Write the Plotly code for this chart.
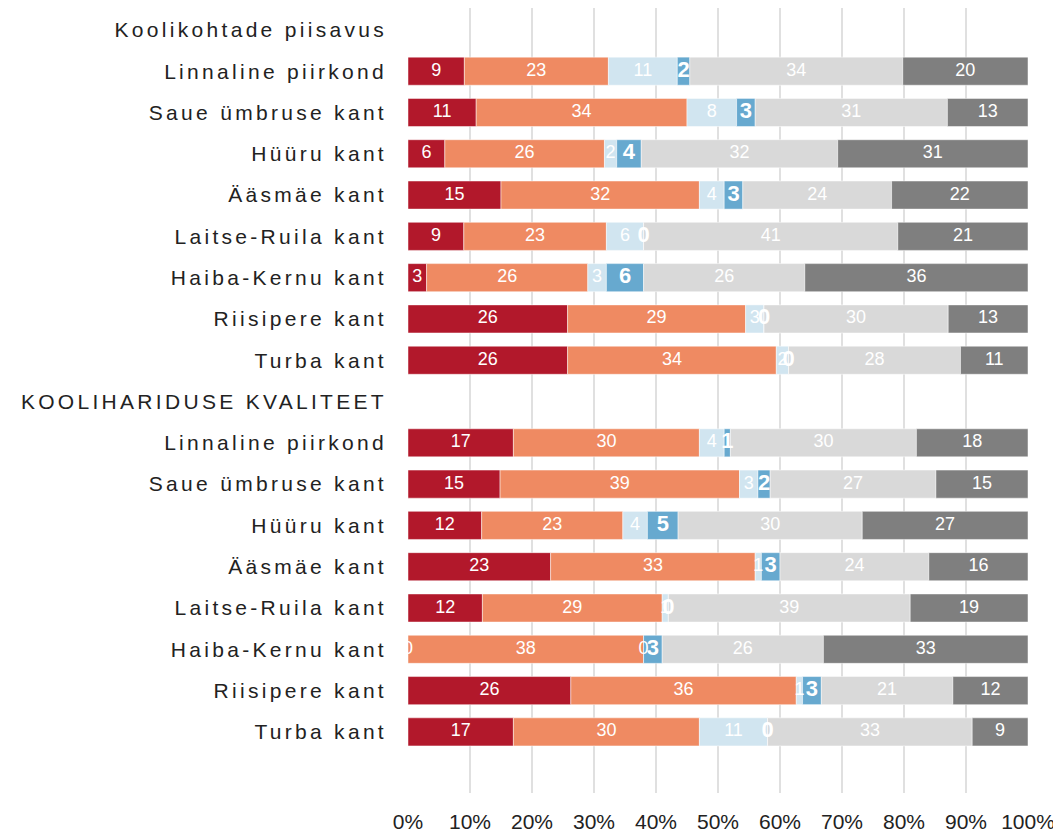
import plotly.graph_objects as go

# row labels (two section headers with no bars)
rows = [
    "Koolikohtade piisavus",
    "Linnaline piirkond", "Saue ümbruse kant", "Hüüru kant", "Ääsmäe kant",
    "Laitse-Ruila kant", "Haiba-Kernu kant", "Riisipere kant", "Turba kant",
    "KOOLIHARIDUSE KVALITEET",
    "Linnaline piirkond", "Saue ümbruse kant", "Hüüru kant", "Ääsmäe kant",
    "Laitse-Ruila kant", "Haiba-Kernu kant", "Riisipere kant", "Turba kant",
]

# shares (%) per answer group, None for header rows
red = [None, 9, 11, 6, 15, 9, 3, 26, 26, None, 17, 15, 12, 23, 12, 0, 26, 17]
salmon = [None, 23, 34, 26, 32, 23, 26, 29, 34, None, 30, 39, 23, 33, 29, 38, 36, 30]
light_blue = [None, 11, 8, 2, 4, 6, 3, 3, 2, None, 4, 3, 4, 1, 1, 0, 1, 11]
blue = [None, 2, 3, 4, 3, 0, 6, 0, 0, None, 1, 2, 5, 3, 0, 3, 3, 0]
light_gray = [None, 34, 31, 32, 24, 41, 26, 30, 28, None, 30, 27, 30, 24, 39, 26, 21, 33]
dark_gray = [None, 20, 13, 31, 22, 21, 36, 13, 11, None, 18, 15, 27, 16, 19, 33, 12, 9]

x_ticks = list(range(0, 101, 10))
x_tick_labels = [f"{t}%" for t in x_ticks]

series = [red, salmon, light_blue, blue, light_gray, dark_gray]
colors = ["#b2182b", "#ef8a62", "#d1e5f0", "#67a9cf", "#d9d9d9", "#7f7f7f"]

FONT = "Liberation Sans, Arial, Helvetica, sans-serif"

# normalise each row to 100 %
totals = []
for i in range(len(rows)):
    vals = [s[i] for s in series]
    totals.append(sum(vals) if vals[0] is not None else None)

fig = go.Figure()
base = [0.0] * len(rows)
for k, s in enumerate(series):
    ys, xs, bases, tx, tt = [], [], [], [], []
    for i, v in enumerate(s):
        if v is None:
            continue
        w = v / totals[i] * 100
        ys.append(i)
        xs.append(w)
        bases.append(base[i])
        tx.append(base[i] + w / 2)
        tt.append(str(v))
        base[i] += w
    fig.add_trace(go.Bar(
        y=ys, x=xs, base=bases, orientation="h", width=0.68,
        marker=dict(color=colors[k], line=dict(color="rgba(255,255,255,0.6)", width=0.8)),
        hoverinfo="skip", showlegend=False,
    ))
    bold = k == 3
    fig.add_trace(go.Scatter(
        y=ys, x=tx, text=tt, mode="text",
        textfont=dict(family=FONT, color="white",
                      size=22 if bold else 18,
                      weight="bold" if bold else "normal"),
        hoverinfo="skip", showlegend=False,
    ))

# page body has an 8px margin, so the figure is sized to fit inside it
fig.update_layout(
    width=1053, height=824,
    margin=dict(l=400, r=33, t=0, b=39),
    plot_bgcolor="white", paper_bgcolor="white",
    barmode="overlay",
    font=dict(family=FONT, color="#222222"),
)
fig.update_xaxes(
    range=[0, 100], tickvals=x_ticks, ticktext=x_tick_labels,
    showgrid=True, gridcolor="#e0e0e0", gridwidth=1.5,
    zeroline=False, showline=False,
    tickfont=dict(size=21, color="#222222"), ticklabelstandoff=14,
)
fig.update_yaxes(
    range=[18.48, -0.53],
    tickvals=list(range(len(rows))),
    ticktext=['<span style="letter-spacing:3.3px">' + r + "</span>" for r in rows],
    showgrid=False, zeroline=False, showline=False,
    tickfont=dict(size=21, color="#222222"), ticklabelstandoff=20,
)

fig.write_html("out.html")
